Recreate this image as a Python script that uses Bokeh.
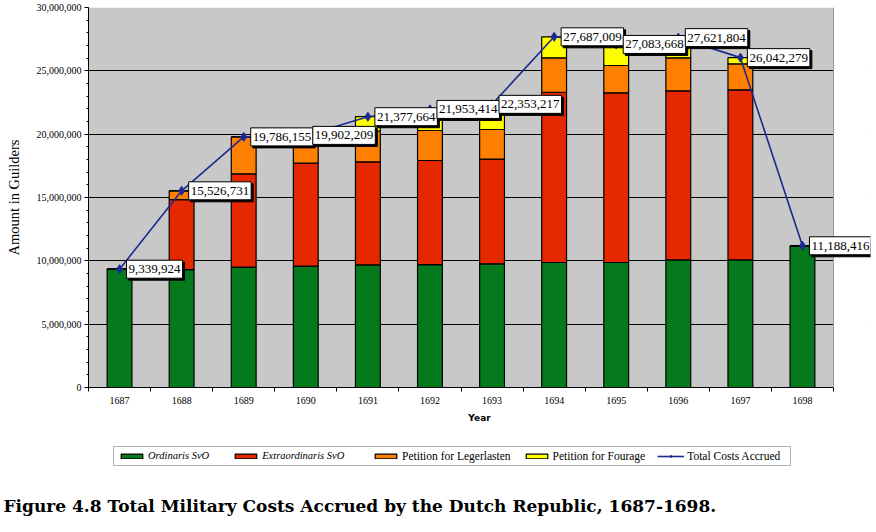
from bokeh.plotting import figure
from bokeh.layouts import column
from bokeh.models import (ColumnDataSource, Range1d, FixedTicker, NumeralTickFormatter,
                          Legend, LegendItem, Label, BoxAnnotation, Span)
from bokeh.embed import file_html
from bokeh.resources import INLINE

# ---- data ----
years = ["1687", "1688", "1689", "1690", "1691", "1692",
         "1693", "1694", "1695", "1696", "1697", "1698"]
ordinaris = [9339924, 9300000, 9500000, 9580000, 9680000, 9700000,
             9760000, 9870000, 9870000, 10080000, 10080000, 11188416]
extraordinaris = [0, 5540000, 7370000, 8130000, 8140000, 8220000,
                  8270000, 13440000, 13390000, 13340000, 13420000, 0]
legerlasten = [0, 687000, 2916000, 2192000, 2420000, 2370000,
               2340000, 2720000, 2160000, 2610000, 2050000, 0]
fourage = [0, 0, 0, 0, 1137000, 1663000,
           1983000, 1657000, 1664000, 1592000, 492000, 0]
totals = [9339924, 15526731, 19786155, 19902209, 21377664, 21953414,
          22353217, 27687009, 27083668, 27621804, 26042279, 11188416]
y_ticks = [0, 5000000, 10000000, 15000000, 20000000, 25000000, 30000000]
series_names = ["Ordinaris SvO", "Extraordinaris SvO",
                "Petition for Legerlasten", "Petition for Fourage"]
line_name = "Total Costs Accrued"
caption = "Figure 4.8  Total  Military Costs Accrued by the Dutch Republic, 1687-1698."

SERIF = "Liberation Serif"
colors = ["#047A1C", "#E52800", "#FF8000", "#FFFF00"]
line_color = "#1B2A8F"
plot_gray = "#C8C8C8"
stack_fields = ["ordinaris", "extraordinaris", "legerlasten", "fourage"]

n = len(years)
x_pos = [i + 0.5 for i in range(n)]
src = ColumnDataSource(dict(x=x_pos, year=years, ordinaris=ordinaris,
                            extraordinaris=extraordinaris,
                            legerlasten=legerlasten, fourage=fourage,
                            total=totals))

# frame: plot area 88..833 px for the 12 years, extra room on the right for labels
W, H = 876, 430
left_b, right_b, top_b, bottom_b = 88, 6, 7, 43
plot_area_w = 745
frame_w = W - left_b - right_b
x_end = n * frame_w / plot_area_w

p = figure(width=W, height=H, output_backend="svg", toolbar_location=None,
           x_range=Range1d(0, x_end), y_range=Range1d(0, y_ticks[-1]),
           min_border_left=left_b, min_border_right=right_b,
           min_border_top=top_b, min_border_bottom=bottom_b)
p.frame_align = False
p.background_fill_color = "white"
p.border_fill_color = "white"
p.outline_line_color = None

# gray plot area (years 0..n), drawn below the grid
p.add_layout(BoxAnnotation(left=0, right=n, bottom=0, top=y_ticks[-1],
                           fill_color=plot_gray, fill_alpha=1,
                           line_color=None, level="image"))

# axes
p.xaxis.bounds = (0, n)
p.xaxis.ticker = FixedTicker(ticks=x_pos, minor_ticks=list(range(n + 1)))
p.xaxis.major_label_overrides = {x: y for x, y in zip(x_pos, years)}
p.xaxis.major_tick_line_color = None
p.xaxis.major_tick_out = 4
p.xaxis.major_tick_in = 0
p.xaxis.minor_tick_out = 4
p.xaxis.minor_tick_in = 0
p.xaxis.minor_tick_line_color = "black"
p.xaxis.major_label_standoff = 5
p.xaxis.major_label_text_font = SERIF
p.xaxis.major_label_text_font_size = "10px"
p.xaxis.major_label_text_color = "black"
p.xaxis.axis_label = "Year"
p.xaxis.axis_label_text_font = "DejaVu Sans"
p.xaxis.axis_label_text_font_style = "bold"
p.xaxis.axis_label_text_font_size = "9px"
p.xaxis.axis_label_text_color = "black"
p.xaxis.axis_label_standoff = 6
p.xaxis.axis_line_color = "black"

p.yaxis.ticker = FixedTicker(ticks=y_ticks,
                             minor_ticks=list(range(0, y_ticks[-1] + 1, 1000000)))
p.yaxis.formatter = NumeralTickFormatter(format="0,0")
p.yaxis.major_tick_out = 4
p.yaxis.major_tick_in = 0
p.yaxis.minor_tick_out = 2
p.yaxis.minor_tick_in = 0
p.yaxis.major_tick_line_color = "black"
p.yaxis.minor_tick_line_color = "black"
p.yaxis.major_label_standoff = 3
p.yaxis.major_label_text_font = SERIF
p.yaxis.major_label_text_font_size = "10px"
p.yaxis.major_label_text_color = "black"
p.yaxis.axis_label = "Amount in Guilders"
p.yaxis.axis_label_text_font = SERIF
p.yaxis.axis_label_text_font_style = "normal"
p.yaxis.axis_label_text_font_size = "14.5px"
p.yaxis.axis_label_text_color = "black"
p.yaxis.axis_label_standoff = 12
p.yaxis.axis_line_color = "black"

p.xgrid.visible = False
p.ygrid.ticker = FixedTicker(ticks=y_ticks)
p.ygrid.grid_line_color = "black"
p.ygrid.grid_line_width = 1

# keep the label room to the right of the plot area white (covers grid lines)
p.add_layout(BoxAnnotation(left=n, right=x_end * 1.05, fill_color="white",
                           fill_alpha=1, line_color=None, level="underlay"))
p.add_layout(Span(location=n, dimension="height", line_color="#9A9A9A",
                  line_width=1))

# stacked bars
bars = p.vbar_stack(stack_fields, x="x", width=0.4, color=colors,
                    line_color="black", line_width=1.2, source=src)
for b in bars:
    b.glyph.line_color = "black"

# total line
ln = p.line("x", "total", source=src, line_color=line_color, line_width=1.6)
mk = p.scatter("x", "total", source=src, marker="diamond", size=9,
               fill_color=line_color, line_color=line_color)

# data labels with drop shadow
pad = dict(left=2, right=2, top=5, bottom=5)
for x, t in zip(x_pos, totals):
    p.add_layout(Label(x=x, y=t, text=f"{t:,}", x_offset=9, y_offset=-2,
                       text_align="left", text_baseline="middle",
                       text_font=SERIF, text_font_size="13px", text_color="black",
                       padding=pad, background_fill_color="black",
                       border_line_color="black"))
for x, t in zip(x_pos, totals):
    p.add_layout(Label(x=x, y=t, text=f"{t:,}", x_offset=7, y_offset=0,
                       text_align="left", text_baseline="middle",
                       text_font=SERIF, text_font_size="13px", text_color="black",
                       padding=pad, background_fill_color="white",
                       border_line_color="black", border_line_width=1))

# ---- bottom strip: legend and caption ----
H2 = 532 - H
p2 = figure(width=W, height=H2, output_backend="svg", toolbar_location=None,
            x_range=Range1d(0, W), y_range=Range1d(0, H2),
            x_axis_type=None, y_axis_type=None, min_border=0)
p2.frame_align = False
p2.outline_line_color = None
p2.background_fill_color = "white"
p2.grid.visible = False

leg_bottom = H2 - 465 + H
leg_top = H2 - 446 + H
p2.add_layout(BoxAnnotation(left=113, right=790, bottom=leg_bottom, top=leg_top,
                            fill_color="white", fill_alpha=1,
                            line_color="black", line_width=1))

# legend-only renderers (hidden; they only supply the legend swatches)
dummy = [p2.vbar(x="x", top=f, width=0.4, source=src, visible=False,
                 fill_color=c, line_color="black", line_width=1.2)
         for f, c in zip(stack_fields, colors)]
d_ln = p2.line(x="x", y="total", source=src, visible=False,
               line_color=line_color, line_width=1.6)
d_mk = p2.scatter(x="x", y="total", source=src, visible=False, marker="diamond",
                  size=8, fill_color=line_color, line_color=line_color)

row_bottom = (leg_bottom + leg_top) / 2 - 6
leg_common = dict(orientation="horizontal", glyph_width=27, glyph_height=6,
                  label_height=12, label_standoff=3, padding=0, margin=0,
                  border_line_color=None, background_fill_alpha=0,
                  inactive_fill_alpha=0,
                  label_text_font=SERIF, label_text_color="black")
leg_a = Legend(items=[LegendItem(label=series_names[0], renderers=[dummy[0]]),
                      LegendItem(label=series_names[1], renderers=[dummy[1]])],
               location=(118, row_bottom), label_text_font_style="italic",
               label_text_font_size="10.5px", spacing=23, **leg_common)
leg_b = Legend(items=[LegendItem(label=series_names[2], renderers=[dummy[2]]),
                      LegendItem(label=series_names[3], renderers=[dummy[3]]),
                      LegendItem(label=line_name, renderers=[d_ln, d_mk])],
               location=(372, row_bottom), label_text_font_style="normal",
               label_text_font_size="11.5px", spacing=12, **leg_common)
p2.add_layout(leg_a)
p2.add_layout(leg_b)

p2.add_layout(Label(x=3, y=H2 - 505 + H, text=caption, text_align="left",
                    text_baseline="middle", text_font="DejaVu Serif",
                    text_font_style="bold", text_font_size="17px",
                    text_color="black"))

layout = column(p, p2, spacing=0)
open("out.html", "w").write(file_html(layout, INLINE))
